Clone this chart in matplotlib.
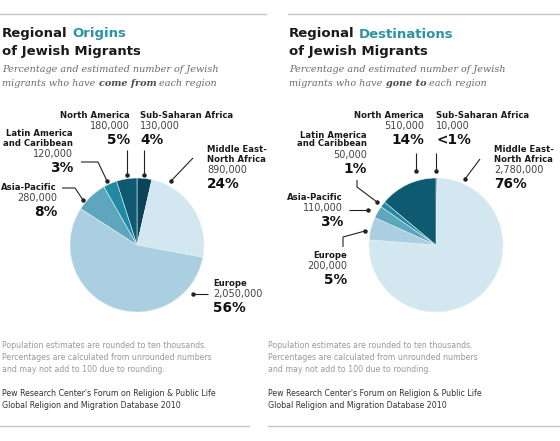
import matplotlib
matplotlib.use("Agg")
import matplotlib.pyplot as plt

# data
regions = ["Sub-Saharan Africa", "Middle East-\nNorth Africa", "Europe",
           "Asia-Pacific", "Latin America\nand Caribbean", "North America"]
colors = ["#0b4458", "#d3e7f0", "#a9cfe0", "#5ea6be", "#2089a3", "#0d5a71"]

origin_values = [130, 890, 2050, 280, 120, 180]   # thousands
origin_pct = ["4%", "24%", "56%", "8%", "3%", "5%"]

dest_values = [10, 2780, 200, 110, 50, 510]       # thousands
dest_pct = ["<1%", "76%", "5%", "3%", "1%", "14%"]

W, H = 560, 441
DARK = "#1a1a1a"
TEAL = "#2a93a5"

# label layout (pixel positions): x, y of first line, ha, leader line points
origin_layout = [
    (140, 115, "left", [(144, 150), (144, 175)]),
    (207, 150, "left", [(193, 158), (171, 181)]),
    (213, 283, "left", [(208, 294), (193, 294)]),
    (57, 187, "right", [(62, 188), (75, 188), (83, 200)]),
    (73, 134, "right", [(81, 162), (98, 162), (107, 181)]),
    (130, 115, "right", [(127, 150), (127, 175)]),
]
dest_layout = [
    (436, 115, "left", [(436, 153), (436, 171)]),
    (494, 150, "left", [(480, 159), (465, 179)]),
    (347, 255, "right", [(343, 247), (343, 237), (365, 231)]),
    (343, 197, "right", [(349, 210), (368, 210)]),
    (367, 135, "right", [(357, 180), (357, 187), (377, 202)]),
    (424, 115, "right", [(416, 153), (416, 171)]),
]


def add_pie(fig, cx, cy, r, values):
    ax = fig.add_axes([(cx - r) / W, 1 - (cy + r) / H, 2 * r / W, 2 * r / H])
    ax.pie(values, colors=colors, startangle=90, counterclock=False,
           radius=1, wedgeprops=dict(edgecolor="#e8f1f5", linewidth=0.4))
    ax.set_xlim(-1, 1)
    ax.set_ylim(-1, 1)
    ax.axis("off")


def add_labels(ov, values, pcts, layout):
    for name, v, pct, (x, y, ha, pts) in zip(regions, values, pcts, layout):
        lines = name.split("\n")
        yy = y
        for ln in lines:
            ov.text(x, yy, ln, ha=ha, va="center", fontsize=6.1,
                    fontweight="bold", color=DARK)
            yy += 9
        yy += 2
        ov.text(x, yy, f"{v * 1000:,}", ha=ha, va="center", fontsize=7,
                color="#444444")
        ov.text(x, yy + 14, pct, ha=ha, va="center", fontsize=9.8,
                fontweight="bold", color="#111111")
        xs = [p[0] for p in pts]
        ys = [p[1] for p in pts]
        ov.plot(xs, ys, color="#222222", lw=0.8, solid_capstyle="butt")
        ov.plot(xs[-1], ys[-1], "o", color="#222222", ms=2.2)


def add_header(ov, x, word, verb):
    t = ov.text(x, 34, "Regional", fontsize=9.5, fontweight="bold",
                color=DARK, va="center")
    ov.annotate(word, xy=(1, 0), xycoords=t, xytext=(3.2, 0),
                textcoords="offset points", va="bottom", ha="left",
                fontsize=9.5, fontweight="bold", color=TEAL)
    ov.text(x, 51, "of Jewish Migrants", fontsize=9.5, fontweight="bold",
            color=DARK, va="center")
    serif = dict(fontsize=6.9, family="DejaVu Serif", style="italic")
    ov.text(x, 70, "Percentage and estimated number of Jewish",
            color="#6a6a6a", va="center", **serif)
    s = ov.text(x, 83, "migrants who have", color="#6a6a6a", va="center",
                **serif)
    b = ov.annotate(verb, xy=(1, 0), xycoords=s, xytext=(2.3, 0),
                    textcoords="offset points", va="bottom", ha="left",
                    fontweight="bold", color="#4a4a4a", **serif)
    ov.annotate("each region", xy=(1, 0), xycoords=b, xytext=(2.3, 0),
                textcoords="offset points", va="bottom", ha="left",
                color="#6a6a6a", **serif)


def add_footer(ov, x):
    notes = ["Population estimates are rounded to ten thousands.",
             "Percentages are calculated from unrounded numbers",
             "and may not add to 100 due to rounding."]
    for i, n in enumerate(notes):
        ov.text(x, 346 + i * 11.5, n, fontsize=5.65, color="#9a9a9a",
                va="center")
    src = ["Pew Research Center's Forum on Religion & Public Life",
           "Global Religion and Migration Database 2010"]
    for i, n in enumerate(src):
        ov.text(x, 393 + i * 12, n, fontsize=5.65, color="#333333",
                va="center")


fig = plt.figure(figsize=(W / 100, H / 100), dpi=100)
fig.patch.set_facecolor("white")

add_pie(fig, 137, 245, 67, origin_values)
add_pie(fig, 436, 245, 67, dest_values)

ov = fig.add_axes([0, 0, 1, 1], zorder=5)
ov.set_xlim(0, W)
ov.set_ylim(H, 0)
ov.axis("off")
ov.patch.set_alpha(0)

for x0, x1 in [(0, 266), (288, 560)]:
    ov.plot([x0, x1], [14, 14], color="#c4c4c4", lw=1)
for x0, x1 in [(0, 249), (268, 560)]:
    ov.plot([x0, x1], [426, 426], color="#c4c4c4", lw=1)

add_header(ov, 2, "Origins", "come from")
add_header(ov, 289, "Destinations", "gone to")

add_labels(ov, origin_values, origin_pct, origin_layout)
add_labels(ov, dest_values, dest_pct, dest_layout)

add_footer(ov, 2)
add_footer(ov, 268)

fig.savefig("out.png", dpi=100)
